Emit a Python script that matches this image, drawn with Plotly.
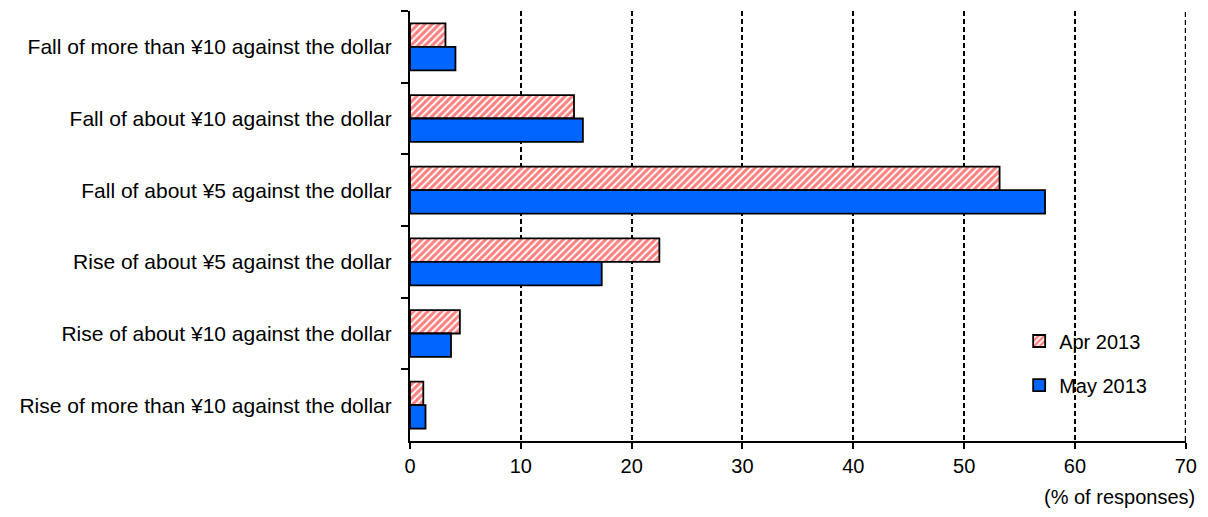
import plotly.graph_objects as go

# Survey responses on expected yen/dollar movement (% of responses)
categories = [
    "Fall of more than ¥10 against the dollar",
    "Fall of about ¥10 against the dollar",
    "Fall of about ¥5 against the dollar",
    "Rise of about ¥5 against the dollar",
    "Rise of about ¥10 against the dollar",
    "Rise of more than ¥10 against the dollar",
]
apr_2013 = [3.2, 14.8, 53.2, 22.5, 4.5, 1.2]
may_2013 = [4.1, 15.6, 57.3, 17.3, 3.7, 1.4]
x_ticks = [0, 10, 20, 30, 40, 50, 60, 70]

FONT = "Liberation Sans, Arial, sans-serif"
FS = 20

fig = go.Figure()
fig.add_trace(go.Bar(
    y=categories, x=apr_2013, orientation="h", name="Apr 2013",
    marker=dict(
        color="white",
        line=dict(color="black", width=1.8),
        pattern=dict(shape="/", fgcolor="#FF0000", bgcolor="white",
                     size=5, solidity=0.6),
    ),
    legend="legend",
))
fig.add_trace(go.Bar(
    y=categories, x=may_2013, orientation="h", name="May 2013",
    marker=dict(color="#0066FF", line=dict(color="black", width=1.8)),
    legend="legend2",
))

legend_style = dict(xanchor="left", yanchor="middle",
                    bgcolor="rgba(0,0,0,0)", font=dict(size=FS),
                    itemwidth=30)

fig.update_layout(
    width=1208, height=517,
    margin=dict(l=410, r=15, t=11, b=76),
    paper_bgcolor="white", plot_bgcolor="white",
    barmode="group", bargap=0.345, bargroupgap=0,
    font=dict(family=FONT, size=FS, color="black"),
    showlegend=True,
    legend=dict(x=0.785, y=0.2326, **legend_style),
    legend2=dict(x=0.785, y=0.130, **legend_style),
)

fig.update_xaxes(
    range=[0, 70.02], tickvals=x_ticks, ticktext=[str(v) for v in x_ticks],
    showline=True, linecolor="black", linewidth=2,
    ticks="outside", ticklen=6, tickwidth=1.5, tickcolor="black",
    showgrid=True, gridcolor="black", gridwidth=1.6, griddash="5px,3px",
    zeroline=False, tickfont=dict(size=FS),
)
fig.update_yaxes(
    autorange="reversed", type="category",
    showline=True, linecolor="black", linewidth=2,
    ticks="outside", ticklen=7, tickwidth=1.5, tickcolor="black",
    tickson="boundaries", ticklabelstandoff=12,
    showgrid=False, zeroline=False, tickfont=dict(size=21),
)

# dashed gridline at the right end of the value axis
fig.add_shape(
    type="line", xref="x", yref="paper", x0=x_ticks[-1], x1=x_ticks[-1],
    y0=0, y1=1, line=dict(color="black", width=2, dash="5px,3px"),
    layer="below",
)

fig.add_annotation(
    text="(% of responses)", xref="paper", yref="paper",
    x=1.0, xshift=11, y=-0.13, xanchor="right", yanchor="middle",
    showarrow=False, font=dict(size=FS),
)

fig.write_html("out.html")
